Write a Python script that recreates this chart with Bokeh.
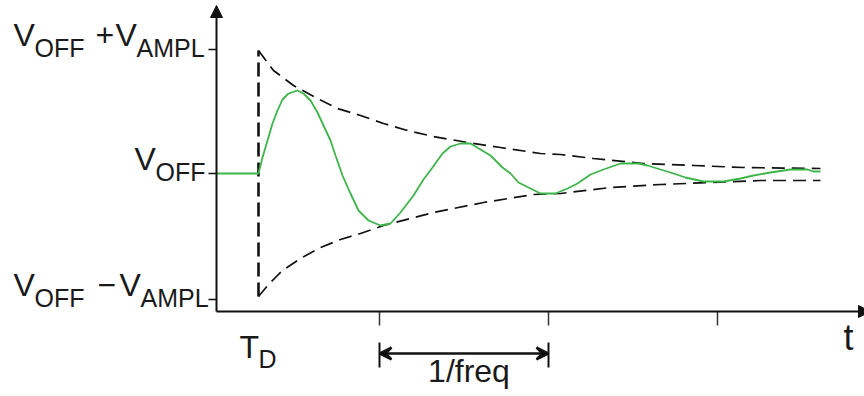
from bokeh.plotting import figure
from bokeh.models import Range1d, Arrow, NormalHead, VeeHead, ColumnDataSource
from bokeh.core.properties import value
from bokeh.embed import file_html
from bokeh.resources import INLINE

# ---------------- data (x: time, 0 at the vertical axis; y: voltage) ----------------
V_LOW = 0      # V_OFF - V_AMPL
V_OFF = 126
V_HIGH = 250   # V_OFF + V_AMPL
T_D = 42
tick_times = [163, 332, 501]

signal_t = [0, 42, 46, 51, 56, 61, 66, 72, 81, 87, 94, 101, 107, 114, 119, 126, 134,
            142, 152, 164, 174, 184, 197, 207, 216, 226, 234, 244, 254, 264, 274, 286,
            294, 302, 314, 324, 339, 351, 361, 374, 387, 404, 422, 431, 444, 454, 469,
            487, 507, 524, 537, 554, 574, 591, 597, 604]
signal_v = [126, 126, 142, 159, 176, 189, 200, 206, 209, 206, 199, 187, 174, 159, 144,
            124, 106, 89, 79, 74, 76, 87, 104, 120, 132, 146, 153, 156, 156, 150, 144,
            132, 126, 117, 111, 106, 106, 111, 116, 125, 130, 136, 136, 134, 130, 127,
            122, 118, 118, 121, 124, 127, 130, 130, 128, 128]

env_up_t = [42, 57, 77, 101, 121, 144, 167, 191, 217, 251, 284, 324, 344, 377, 427,
            477, 527, 604]
env_up_v = [249, 229, 214, 201, 191, 184, 176, 169, 163, 157, 152, 146, 145, 141, 136,
            134, 132, 131]

env_lo_t = [42, 52, 60, 66, 84, 104, 124, 144, 167, 194, 217, 267, 317, 344, 394, 444,
            494, 544, 604]
env_lo_v = [3, 15, 23, 29, 41, 52, 60, 66, 74, 81, 87, 97, 105, 106, 112, 115, 117,
            119, 119]

y_tick_values = [V_LOW, V_OFF, V_HIGH]

# ---------------- style / layout ----------------
GREEN = "#3db54a"
INK = "#111111"
FONT = "Liberation Sans"
AXIS_Y = -12       # where the time axis sits
Y_TOP = 294        # tip of the vertical arrow
X_RIGHT = 654      # tip of the horizontal arrow

p = figure(width=864, height=396, x_range=Range1d(-216, 648), y_range=Range1d(-97, 299),
           output_backend="svg", toolbar_location=None, min_border=0,
           x_axis_type=None, y_axis_type=None, outline_line_color=None,
           background_fill_color="white", border_fill_color="white")

# axes with arrow heads
p.add_layout(Arrow(end=NormalHead(size=12, fill_color=INK, line_color=INK, line_width=1),
                   x_start=0, y_start=AXIS_Y, x_end=0, y_end=Y_TOP,
                   line_width=2, line_color=INK))
p.add_layout(Arrow(end=NormalHead(size=12, fill_color=INK, line_color=INK, line_width=1),
                   x_start=0, y_start=AXIS_Y, x_end=X_RIGHT, y_end=AXIS_Y,
                   line_width=2, line_color=INK))

# tick marks
p.segment(x0=[-8] * 3, x1=[0] * 3, y0=y_tick_values, y1=y_tick_values,
          line_width=1.5, line_color=INK)
p.segment(x0=tick_times, x1=tick_times, y0=[AXIS_Y] * 3, y1=[AXIS_Y - 14] * 3,
          line_width=1.5, line_color="#333333")

# envelope and delay marker
p.line(env_up_t, env_up_v, line_color=INK, line_width=1.7, line_dash="13 7")
p.line(env_lo_t, env_lo_v, line_color=INK, line_width=1.7, line_dash="13 7")
p.segment(x0=[T_D], x1=[T_D], y0=[env_lo_v[0]], y1=[env_up_v[0]],
          line_color=INK, line_width=2.6, line_dash="14 6")

# signal
p.line(signal_t, signal_v, line_color=GREEN, line_width=1.8)

# 1/freq dimension arrow
ARR_Y = -54
p.add_layout(Arrow(start=VeeHead(size=12, line_width=2.5, line_color=INK),
                   end=VeeHead(size=12, line_width=2.5, line_color=INK),
                   x_start=tick_times[0], y_start=ARR_Y, x_end=tick_times[1], y_end=ARR_Y,
                   line_width=2.5, line_color=INK))
p.segment(x0=tick_times[:2], x1=tick_times[:2], y0=[ARR_Y + 11] * 2, y1=[ARR_Y - 14] * 2,
          line_width=2, line_color=INK)

# axis labels with subscripts (main text + subscript pieces)
MAIN, SUB = "32px", "25px"
pieces = [
    # text, x, y, y_offset, size
    ("V", -203, V_HIGH, -15, MAIN), ("OFF", -182, V_HIGH, -2, SUB),
    ("+", -121, V_HIGH, -15, MAIN), ("V", -101, V_HIGH, -15, MAIN), ("AMPL", -80, V_HIGH, -2, SUB),
    ("V", -82, V_OFF, -15, MAIN), ("OFF", -61, V_OFF, -2, SUB),
    ("V", -203, V_LOW, -15, MAIN), ("OFF", -182, V_LOW, -2, SUB),
    ("\u2212", -119, V_LOW, -15, MAIN), ("V", -97, V_LOW, -15, MAIN), ("AMPL", -76, V_LOW, -2, SUB),
    ("T", T_D - 19, AXIS_Y, 35, MAIN), ("D", T_D, AXIS_Y, 47, SUB),
    ("t", 627, AXIS_Y, 26, "36px"),
]
src = ColumnDataSource(dict(text=[q[0] for q in pieces], x=[q[1] for q in pieces],
                            y=[q[2] for q in pieces], yo=[q[3] for q in pieces],
                            size=[q[4] for q in pieces]))
p.text(x="x", y="y", text="text", y_offset="yo", text_font_size="size", source=src,
       text_font=value(FONT), text_color="#1a1a1a", text_align="left",
       text_baseline="alphabetic")

p.text(x=[(tick_times[0] + tick_times[1]) / 2], y=[ARR_Y], text=["1/freq"], x_offset=5,
       y_offset=17, text_font=value(FONT), text_font_size="32px",
       text_color="#1a1a1a", text_align="center", text_baseline="alphabetic")

open("out.html", "w").write(file_html(p, INLINE))
